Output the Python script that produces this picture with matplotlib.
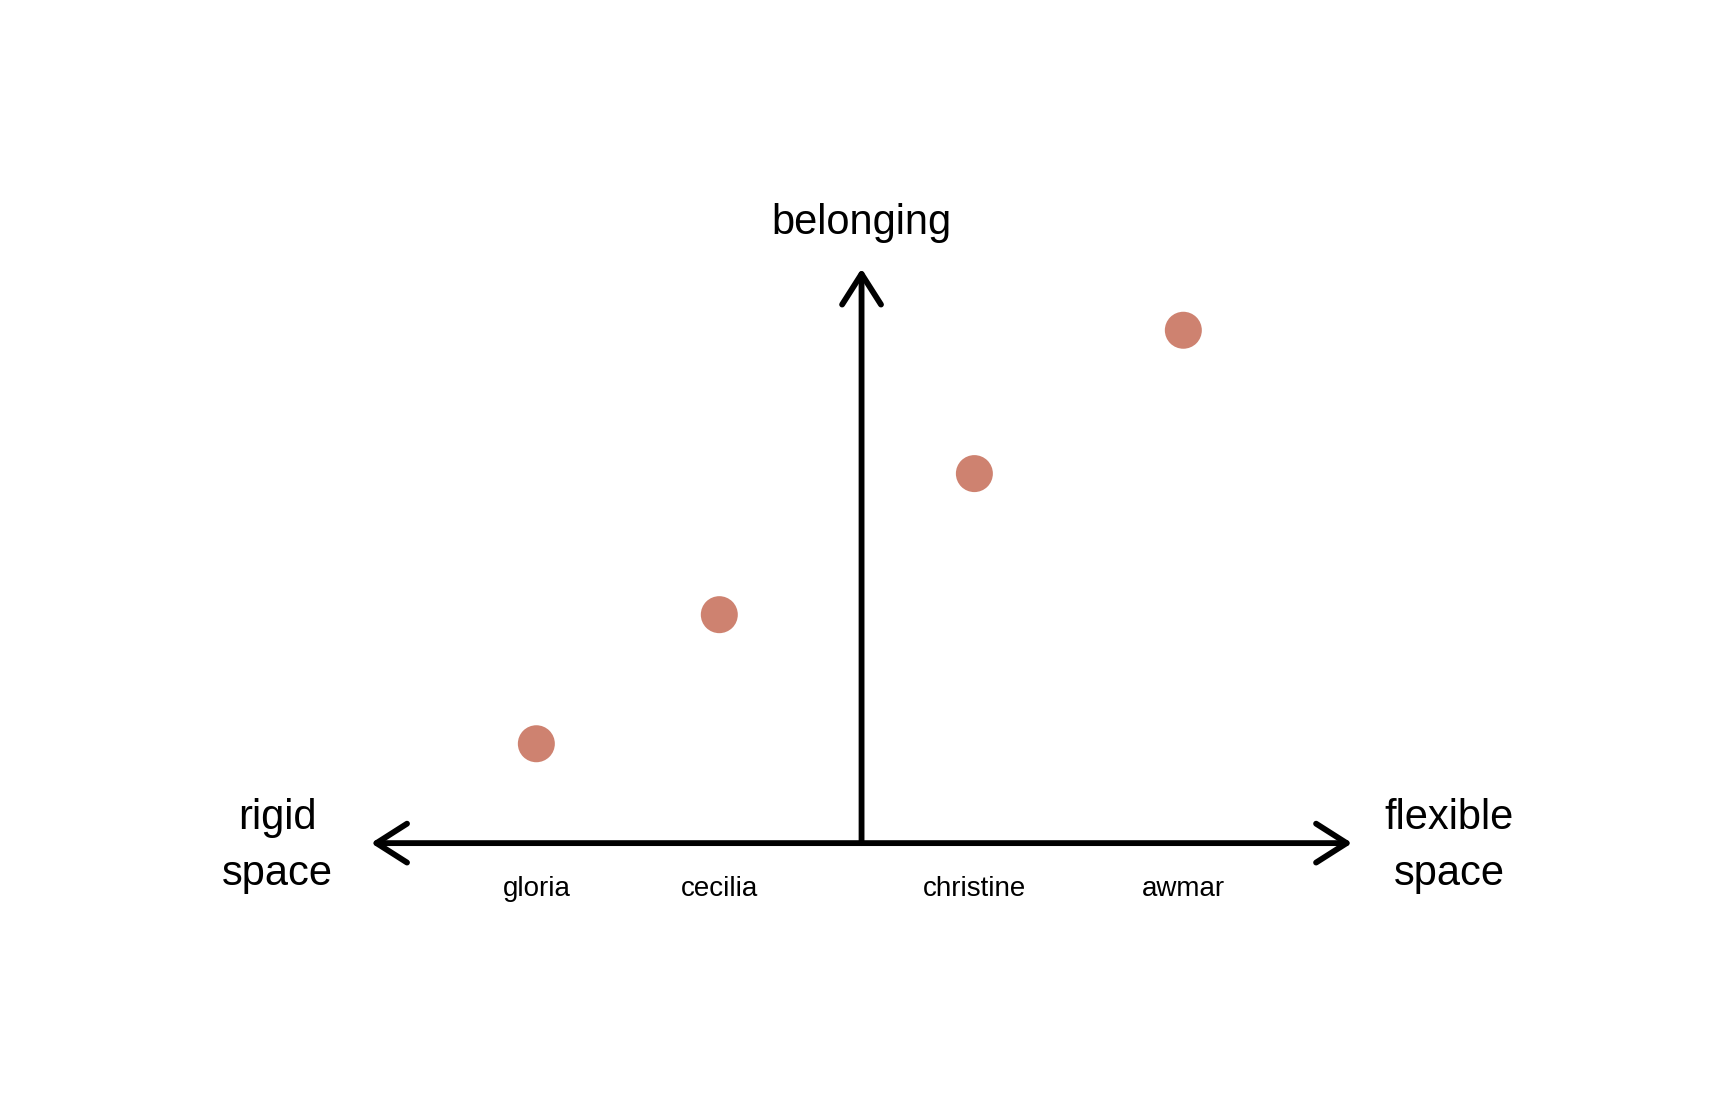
import matplotlib
matplotlib.use("Agg")
import matplotlib.pyplot as plt
from matplotlib.patches import FancyArrowPatch

# data
names = ["gloria", "cecilia", "christine", "awmar"]
flexibility = [-0.663, -0.29, 0.23, 0.656]
belonging = [0.174, 0.40, 0.647, 0.898]

dot_color = "#ce8270"
plt.rcParams['font.family'] = ['Liberation Sans', 'DejaVu Sans']

fig = plt.figure(figsize=(17.13, 11.12), dpi=100)
ax = fig.add_axes([0.2166, 0.2418, 0.5727, 0.5136])
ax.set_xlim(-1, 1)
ax.set_ylim(0, 1)
ax.axis("off")

lw = 4.2
hstyle = "<->,head_length=1.1,head_width=0.7"
vstyle = "->,head_length=1.1,head_width=0.7"
ax.add_patch(FancyArrowPatch((-1, 0), (1, 0), arrowstyle=hstyle, mutation_scale=20,
                             lw=lw, color="black", shrinkA=0, shrinkB=0,
                             capstyle="round", joinstyle="round", clip_on=False))
ax.add_patch(FancyArrowPatch((0, 0), (0, 1.006), arrowstyle=vstyle, mutation_scale=20,
                             lw=lw, color="black", shrinkA=0, shrinkB=0,
                             capstyle="round", joinstyle="round", clip_on=False))

ax.scatter(flexibility, belonging, s=37 ** 2 * 0.5184, color=dot_color, zorder=3,
           edgecolors="none", clip_on=False)

for x, name in zip(flexibility, names):
    ax.text(x, -0.081, name, ha="center", va="center", fontsize=20)

ax.text(0, 1.085, "belonging", ha="center", va="center", fontsize=30)
ax.text(-1.19, -0.005, "rigid\nspace", ha="center", va="center", fontsize=30,
        linespacing=1.5)
ax.text(1.198, -0.005, "flexible\nspace", ha="center", va="center", fontsize=30,
        linespacing=1.5)

fig.savefig("out.png", dpi=100, facecolor="white")
